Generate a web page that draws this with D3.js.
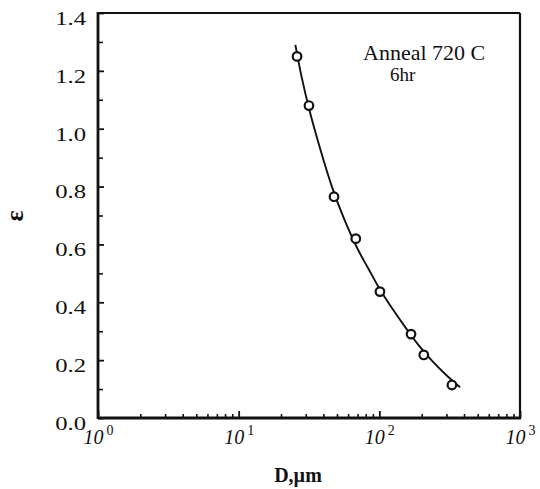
<!DOCTYPE html>
<html>
<head>
<meta charset="utf-8">
<script src="https://cdn.jsdelivr.net/npm/d3@7/dist/d3.min.js"></script>
<style>
  html, body { margin: 0; padding: 0; background: #fff; }
  svg { display: block; }
  text { font-family: "Liberation Serif", "Times New Roman", serif; fill: #111; }
</style>
</head>
<body>
<svg id="chart" width="540" height="489"></svg>
<script>
// Measured points: grain size D (µm) vs strain ε
const grainSize = [26, 31.6, 47.6, 68, 101, 168, 207, 328];
const strain    = [1.25, 1.08, 0.765, 0.62, 0.437, 0.29, 0.218, 0.114];

// Fitted trend line through the measurements
const fitD   = [25.3, 28, 32, 38, 46, 56, 70, 85, 100, 125, 155, 190, 240, 300, 375];
const fitEps = [1.29, 1.18, 1.06, 0.93, 0.80, 0.69, 0.585, 0.51, 0.448, 0.375, 0.31, 0.252, 0.195, 0.148, 0.106];

// Axis ticks
const xMajor = [1, 10, 100, 1000];
const xMajorExp = ["0", "1", "2", "3"];
const yMajor = [0, 0.2, 0.4, 0.6, 0.8, 1.0, 1.2, 1.4];
const yMinor = [0.1, 0.3, 0.5, 0.7, 0.9, 1.1, 1.3];

const annotation = ["Anneal 720 C", "6hr"];
const xTitle = "D,\u00b5m";
const yTitle = "\u03b5";

const plotL = 98, plotR = 520, plotT = 13, plotB = 418;
const serif = "'Liberation Serif', 'Times New Roman', serif";
const svg = d3.select("#chart");

const x = d3.scaleLog().domain([1, 1000]).range([plotL, plotR]);
const y = d3.scaleLinear().domain([0, 1.4]).range([plotB, plotT]);

const xMinor = [];
for (let k = 0; k < 3; k++) for (let m = 2; m <= 9; m++) xMinor.push(m * Math.pow(10, k));

// Minor ticks
svg.append("g").attr("transform", `translate(0,${plotB})`)
  .call(d3.axisBottom(x).tickValues(xMinor).tickSize(-4).tickSizeOuter(0).tickFormat(""))
  .call(g => g.select(".domain").remove())
  .call(g => g.selectAll("line").attr("stroke", "#111").attr("stroke-width", 1.6));

svg.append("g").attr("transform", `translate(${plotL},0)`)
  .call(d3.axisLeft(y).tickValues(yMinor).tickSize(-5).tickSizeOuter(0).tickFormat(""))
  .call(g => g.select(".domain").remove())
  .call(g => g.selectAll("line").attr("stroke", "#111").attr("stroke-width", 1.6));

// Major x ticks with power-of-ten labels
const xAxis = svg.append("g").attr("transform", `translate(0,${plotB})`)
  .call(d3.axisBottom(x).tickValues(xMajor).tickSize(-7).tickSizeOuter(0).tickFormat(""))
  .attr("font-family", serif)
  .call(g => g.select(".domain").remove())
  .call(g => g.selectAll("line").attr("stroke", "#111").attr("stroke-width", 1.8));
xAxis.selectAll(".tick").each(function(d, i) {
  const t = d3.select(this).append("text")
    .attr("y", 26).attr("text-anchor", "middle")
    .attr("font-size", 20).attr("font-style", "italic").attr("fill", "#111")
    .style("font-family", serif);
  t.append("tspan").text("10");
  t.append("tspan").attr("dx", 3).attr("dy", -9).attr("font-size", 14).attr("font-style", "normal").text(xMajorExp[i]);
});

// Major y ticks
svg.append("g").attr("transform", `translate(${plotL},0)`)
  .call(d3.axisLeft(y).tickValues(yMajor).tickSize(-6).tickSizeOuter(0).tickFormat(d3.format(".1f")))
  .attr("font-family", serif)
  .call(g => g.select(".domain").remove())
  .call(g => g.selectAll("line").attr("stroke", "#111").attr("stroke-width", 1.8))
  .call(g => g.selectAll("text")
    .attr("x", 0).attr("dy", "0.6em")
    .attr("transform", "translate(-12,0) scale(1.3,1)")
    .attr("font-size", 19).attr("fill", "#111")
    .style("font-family", serif));

// Frame
svg.append("line").attr("x1", plotL).attr("x2", plotR).attr("y1", plotT).attr("y2", plotT)
  .attr("stroke", "#111").attr("stroke-width", 2.2);
svg.append("line").attr("x1", plotR).attr("x2", plotR).attr("y1", plotT).attr("y2", plotB)
  .attr("stroke", "#111").attr("stroke-width", 2.2);
svg.append("line").attr("x1", plotL).attr("x2", plotR + 1).attr("y1", plotB).attr("y2", plotB)
  .attr("stroke", "#111").attr("stroke-width", 2.8);
svg.append("line").attr("x1", plotL).attr("x2", plotL).attr("y1", plotT - 1).attr("y2", plotB + 1)
  .attr("stroke", "#111").attr("stroke-width", 2.8);

// Trend line
const line = d3.line().x(d => x(d[0])).y(d => y(d[1])).curve(d3.curveCatmullRom);
svg.append("path")
  .datum(fitD.map((d, i) => [d, fitEps[i]]))
  .attr("d", line).attr("fill", "none").attr("stroke", "#111").attr("stroke-width", 1.9);

// Measured points
svg.append("g").selectAll("circle")
  .data(grainSize.map((d, i) => [d, strain[i]]))
  .join("circle")
  .attr("cx", d => x(d[0])).attr("cy", d => y(d[1])).attr("r", 4.3)
  .attr("fill", "#fff").attr("stroke", "#111").attr("stroke-width", 2.2);

// Annotation
svg.append("text").attr("x", 363).attr("y", 60).attr("font-size", 22).text(annotation[0]);
svg.append("text").attr("x", 390).attr("y", 81).attr("font-size", 19).text(annotation[1]);

// Axis titles
svg.append("text").attr("x", 298).attr("y", 482).attr("text-anchor", "middle")
  .attr("font-size", 20).attr("font-weight", 600).text(xTitle);
svg.append("text").attr("transform", "translate(23,216) rotate(-90)")
  .attr("text-anchor", "middle").attr("font-size", 26).attr("font-weight", 600).text(yTitle);
</script>
</body>
</html>
